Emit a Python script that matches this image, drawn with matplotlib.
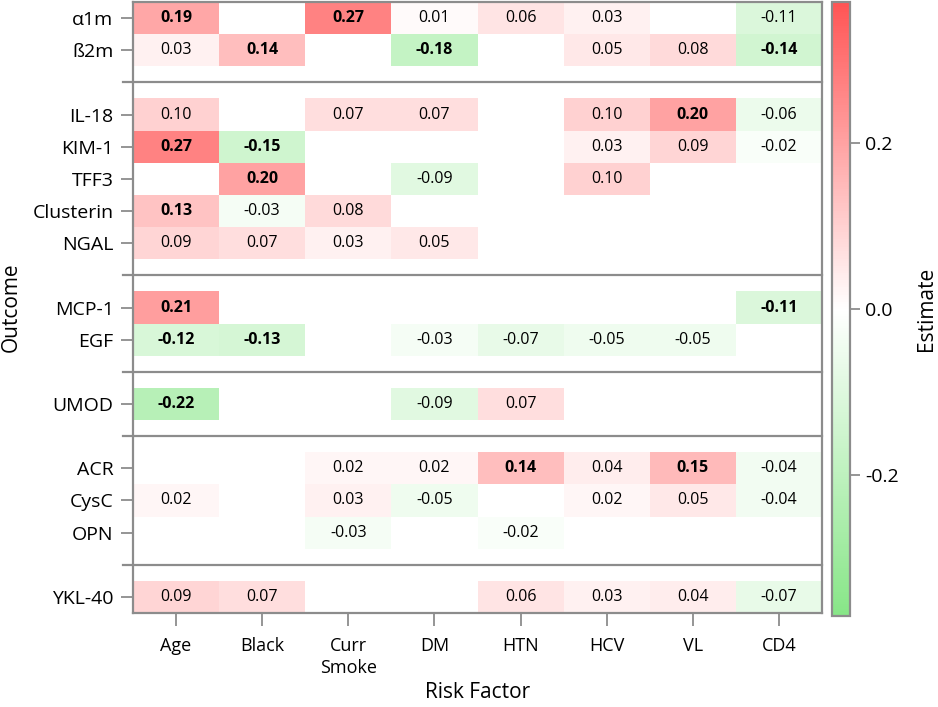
import numpy as np
import matplotlib
matplotlib.use("Agg")
import matplotlib.pyplot as plt
import matplotlib.transforms as mtrans
from matplotlib.colors import LinearSegmentedColormap

plt.rcParams['font.family'] = ['Open Sans', 'Noto Sans', 'DejaVu Sans']

risk_factors = ["Age", "Black", "Curr\nSmoke", "DM", "HTN", "HCV", "VL", "CD4"]
groups = [
    ["α1m", "ß2m"],
    ["IL-18", "KIM-1", "TFF3", "Clusterin", "NGAL"],
    ["MCP-1", "EGF"],
    ["UMOD"],
    ["ACR", "CysC", "OPN"],
    ["YKL-40"],
]
nan = np.nan
estimates = {
    "α1m":       [0.19, nan, 0.27, 0.01, 0.06, 0.03, nan, -0.11],
    "ß2m":       [0.03, 0.14, nan, -0.18, nan, 0.05, 0.08, -0.14],
    "IL-18":     [0.10, nan, 0.07, 0.07, nan, 0.10, 0.20, -0.06],
    "KIM-1":     [0.27, -0.15, nan, nan, nan, 0.03, 0.09, -0.02],
    "TFF3":      [nan, 0.20, nan, -0.09, nan, 0.10, nan, nan],
    "Clusterin": [0.13, -0.03, 0.08, nan, nan, nan, nan, nan],
    "NGAL":      [0.09, 0.07, 0.03, 0.05, nan, nan, nan, nan],
    "MCP-1":     [0.21, nan, nan, nan, nan, nan, nan, -0.11],
    "EGF":       [-0.12, -0.13, nan, -0.03, -0.07, -0.05, -0.05, nan],
    "UMOD":      [-0.22, nan, nan, -0.09, 0.07, nan, nan, nan],
    "ACR":       [nan, nan, 0.02, 0.02, 0.14, 0.04, 0.15, -0.04],
    "CysC":      [0.02, nan, 0.03, -0.05, nan, 0.02, 0.05, -0.04],
    "OPN":       [nan, nan, -0.03, nan, -0.02, nan, nan, nan],
    "YKL-40":    [0.09, 0.07, nan, nan, 0.06, 0.03, 0.04, -0.07],
}
significant = {
    "α1m":       [1, 0, 1, 0, 0, 0, 0, 0],
    "ß2m":       [0, 1, 0, 1, 0, 0, 0, 1],
    "IL-18":     [0, 0, 0, 0, 0, 0, 1, 0],
    "KIM-1":     [1, 1, 0, 0, 0, 0, 0, 0],
    "TFF3":      [0, 1, 0, 0, 0, 0, 0, 0],
    "Clusterin": [1, 0, 0, 0, 0, 0, 0, 0],
    "NGAL":      [0, 0, 0, 0, 0, 0, 0, 0],
    "MCP-1":     [1, 0, 0, 0, 0, 0, 0, 1],
    "EGF":       [1, 1, 0, 0, 0, 0, 0, 0],
    "UMOD":      [1, 0, 0, 0, 0, 0, 0, 0],
    "ACR":       [0, 0, 0, 0, 1, 0, 1, 0],
    "CysC":      [0, 0, 0, 0, 0, 0, 0, 0],
    "OPN":       [0, 0, 0, 0, 0, 0, 0, 0],
    "YKL-40":    [0, 0, 0, 0, 0, 0, 0, 0],
}
vmin, vmax = -0.37, 0.37

# Build row layout: groups separated by an empty row
row_labels, row_pos, sep_pos = [], [], []
pos = 0
for gi, g in enumerate(groups):
    for name in g:
        row_labels.append(name)
        row_pos.append(pos)
        pos += 1
    if gi < len(groups) - 1:
        sep_pos.append(pos)
        pos += 1
nrows = pos
ncols = len(risk_factors)
grid = np.full((nrows, ncols), np.nan)
for name, p in zip(row_labels, row_pos):
    grid[p] = estimates[name]

cmap = LinearSegmentedColormap.from_list(
    "gwr", [(0.0, (0.53, 0.90, 0.53)), (0.5, (1, 1, 1)), (1.0, (1.0, 0.33, 0.33))])

fig = plt.figure(figsize=(9.38, 7.07), dpi=100)
ax = fig.add_axes([133/938, 1-613/707, (822-133)/938, (613-2)/707])
cax = fig.add_axes([832/938, 1-616/707, 18/938, (616-2)/707])

xe = np.arange(ncols + 1) - 0.5
ye = np.arange(nrows + 1) - 0.5
mesh = ax.pcolormesh(xe, ye, np.ma.masked_invalid(grid), cmap=cmap,
                     vmin=vmin, vmax=vmax, shading='flat')
ax.set_xlim(-0.5, ncols - 0.5)
ax.set_ylim(nrows - 0.5, -0.5)

for name, p in zip(row_labels, row_pos):
    for j, v in enumerate(estimates[name]):
        if np.isnan(v):
            continue
        ax.text(j, p, f"{v:.2f}", ha='center', va='center', fontsize=11.5,
                fontweight='bold' if significant[name][j] else 'normal', color='black')

edge = '#8c8c8c'
trans = mtrans.blended_transform_factory(ax.transAxes, ax.transData)
for s in sep_pos:
    ax.plot([-0.015, 1.0], [s, s], color=edge, lw=1.6, transform=trans, clip_on=False)

ax.set_yticks(row_pos)
ax.set_yticklabels(row_labels, fontsize=14)
ax.set_xticks(np.arange(ncols))
ax.set_xticklabels(risk_factors, fontsize=13, linespacing=1.3)
ax.tick_params(axis='both', length=9, width=1.3, color=edge, pad=5)
ax.tick_params(axis='x', pad=8)
for sp in ax.spines.values():
    sp.set_color(edge)
    sp.set_linewidth(1.6)
ax.set_xlabel("Risk Factor", fontsize=15, labelpad=4)
ax.set_ylabel("Outcome", fontsize=15, labelpad=8)

cb = fig.colorbar(mesh, cax=cax)
cb.set_ticks([-0.2, 0.0, 0.2])
cb.set_ticklabels(["-0.2", "0.0", "0.2"])
cb.ax.tick_params(length=7, width=1.3, color=edge, labelsize=14, pad=4)
cb.outline.set_edgecolor(edge)
cb.outline.set_linewidth(1.6)
cb.set_label("Estimate", fontsize=15, labelpad=12)

fig.savefig("out.png", dpi=100)
